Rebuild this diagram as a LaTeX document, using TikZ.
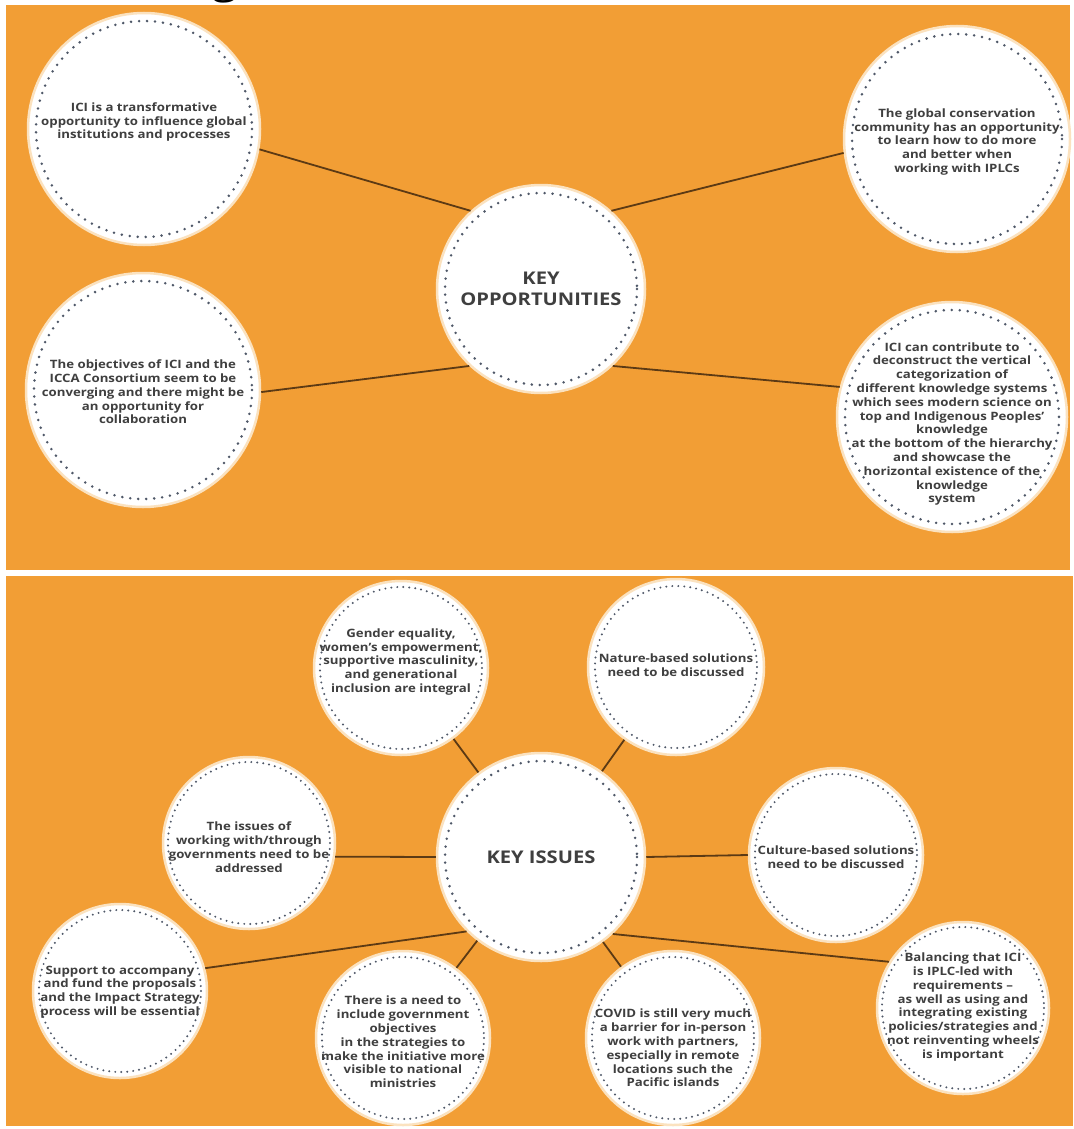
\documentclass[tikz,border=0pt]{standalone}
\usepackage{fontspec}
\setmainfont{Open Sans}[FakeStretch=1.15]
\definecolor{org}{HTML}{F29E35}
\definecolor{lnk}{HTML}{5C3A14}
\definecolor{txt}{HTML}{3F3F3F}
\definecolor{dotc}{HTML}{4F5868}
\definecolor{rim}{HTML}{FBE2BF}
\begin{document}
\begin{tikzpicture}[x=1pt,y=-1pt,
  bubble/.style={circle, fill=white, draw=rim, line width=2.5pt, inner sep=0pt, minimum size=#1},
  ring/.style={draw=dotc, line width=2.8pt, line cap=round, dash pattern=on 0pt off 8pt},
  ringsm/.style={draw=dotc, line width=2.2pt, line cap=round, dash pattern=on 0pt off 6pt},
  link/.style={draw=lnk, line width=1.8pt},
  label/.style={align=center, text=txt, inner sep=0pt, font=\fontsize{11.5}{13.8}\selectfont\bfseries},
  head/.style={align=center, text=txt, inner sep=0pt, font=\fontsize{17.5}{21}\selectfont\bfseries}]
\useasboundingbox (0,0) rectangle (1073,1129);
\fill[white] (0,0) rectangle (1073,1129);
% cut title letter
\begin{scope}
  \clip (0,0) rectangle (1073,5);
  \node[anchor=base, inner sep=0pt, font=\fontsize{40}{40}\selectfont] (ttl) at (225,-6) {g};
\end{scope}
% panels
\fill[org] (6,5) rectangle (1070,570);
\fill[org] (6,576) rectangle (1073,1126);

% ---------- top panel ----------
\node[bubble=208pt] (opp) at (541,289) {};
\node[bubble=232pt] (tl) at (144,129) {};
\node[bubble=226pt] (tr) at (957,139) {};
\node[bubble=234pt] (bl) at (143,390) {};
\node[bubble=230pt] (br) at (952,417) {};

\draw[link] (opp.132) -- (tl.-10);
\draw[link] (opp.48) -- (tr.187);
\draw[link] (opp.227) -- (bl.-1);
\draw[link] (opp.-47) -- (br.165);

\foreach \n/\r in {opp/96, tl/108, tr/105, bl/109, br/107}
  \draw[ring] (\n.center) circle[radius=\r];

\node[head] (oppt) at (541,289) {KEY\\OPPORTUNITIES};
\node[label] (tlt) at (144,122) {ICI is a transformative\\opportunity to influence global\\institutions and processes};
\node[label] (trt) at (957,142) {The global conservation\\community has an opportunity\\to learn how to do more\\and better when\\working with IPLCs};
\node[label] (blt) at (143,392) {The objectives of ICI and the\\ICCA Consortium seem to be\\converging and there might be\\an opportunity for\\collaboration};
\node[label] (brt) at (952,424) {ICI can contribute to\\deconstruct the vertical\\categorization of\\different knowledge systems\\which sees modern science on\\top and Indigenous Peoples'\\knowledge\\at the bottom of the hierarchy\\and showcase the\\horizontal existence of the\\knowledge\\system};

% ---------- bottom panel ----------
\node[bubble=208pt] (iss) at (541,857) {};
\node[bubble=174pt] (gen) at (401,668) {};
\node[bubble=176pt] (nat) at (676,667) {};
\node[bubble=172pt] (gov) at (249,843) {};
\node[bubble=174pt] (cul) at (836,855) {};
\node[bubble=174pt] (sup) at (120,991) {};
\node[bubble=174pt] (ned) at (403,1038) {};
\node[bubble=174pt] (cov) at (673,1038) {};
\node[bubble=172pt] (bal) at (963,1008) {};

\draw[link] (iss) -- (gen);
\draw[link] (iss) -- (nat);
\draw[link] (iss.180) -- (gov.-9);
\draw[link] (iss.east) -- (cul.west);
\draw[link] (iss.225) -- (sup.15);
\draw[link] (iss) -- (ned);
\draw[link] (iss) -- (cov);
\draw[link] (iss.-47) -- (bal.148);

\draw[ring] (iss.center) circle[radius=96];
\foreach \n in {gen, nat, gov, cul, sup, ned, cov, bal}
  \draw[ringsm] (\n.center) circle[radius=81];

\node[head] (isst) at (541,857) {KEY ISSUES};
\node[label] (gent) at (401,662) {Gender equality,\\women's empowerment,\\supportive masculinity,\\and generational\\inclusion are integral};
\node[label] (natt) at (676,665) {Nature-based solutions\\need to be discussed};
\node[label] (govt) at (249,847) {The issues of\\working with/through\\governments need to be\\addressed};
\node[label] (cult) at (836,857) {Culture-based solutions\\need to be discussed};
\node[label] (supt) at (120,992) {Support to accompany\\and fund the proposals\\and the Impact Strategy\\process will be essential};
\node[label] (nedt) at (403,1042) {There is a need to\\include government\\objectives\\in the strategies to\\make the initiative more\\visible to national\\ministries};
\node[label] (covt) at (673,1048) {COVID is still very much\\a barrier for in-person\\work with partners,\\especially in remote\\locations such the\\Pacific islands};
\node[label] (balt) at (963,1007) {Balancing that ICI\\is IPLC-led with\\requirements –\\as well as using and\\integrating existing\\policies/strategies and\\not reinventing wheels\\is important};
\end{tikzpicture}
\end{document}
